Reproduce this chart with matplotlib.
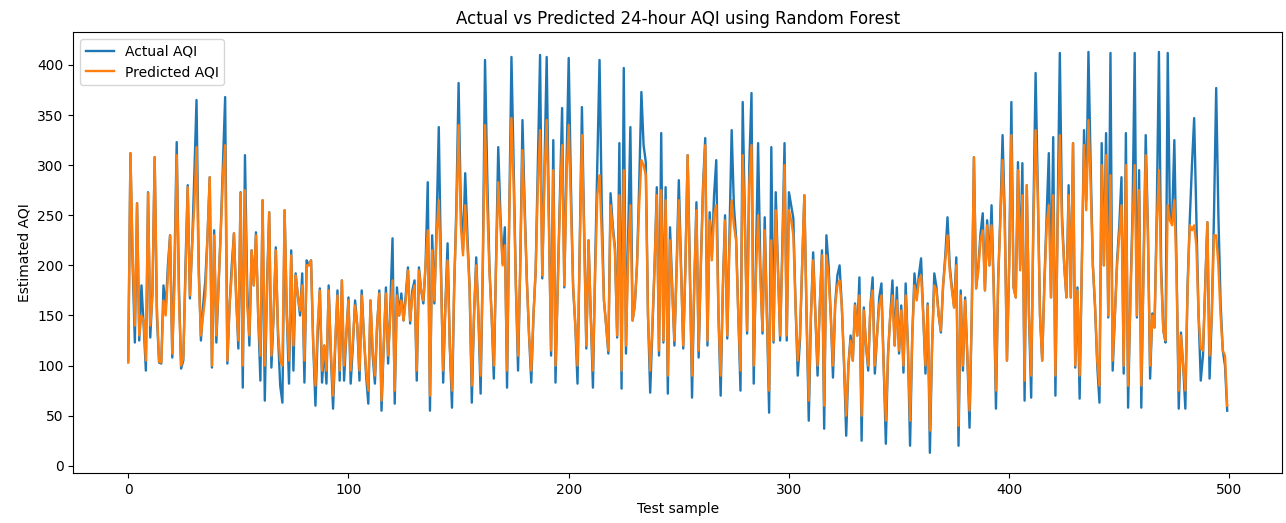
import numpy as np
import matplotlib
matplotlib.use("Agg")
import matplotlib.pyplot as plt

# Values (test samples 0..499)
actual_aqi = [
    105, 312, 200, 123, 262, 125, 180, 140, 95, 273,
    128, 175, 308, 150, 103, 102, 180, 155, 200, 230,
    108, 200, 323, 180, 97, 105, 200, 280, 167, 220,
    290, 365, 200, 125, 160, 185, 230, 288, 98, 235,
    123, 180, 235, 300, 368, 102, 160, 200, 232, 170,
    117, 273, 78, 310, 180, 120, 215, 180, 233, 150,
    85, 265, 65, 180, 253, 98, 150, 218, 130, 80,
    63, 255, 150, 82, 215, 95, 192, 170, 150, 192,
    83, 205, 200, 205, 120, 60, 130, 177, 83, 120,
    82, 180, 110, 57, 120, 175, 85, 185, 85, 130,
    168, 82, 120, 165, 140, 85, 175, 130, 90, 62,
    165, 110, 82, 140, 175, 55, 120, 178, 102, 160,
    227, 62, 178, 150, 172, 145, 170, 198, 142, 175,
    185, 85, 198, 175, 162, 200, 283, 55, 230, 162,
    240, 338, 200, 83, 160, 222, 120, 58, 178, 260,
    382, 260, 215, 292, 230, 178, 63, 150, 208, 150,
    72, 200, 405, 290, 198, 150, 87, 200, 318, 250,
    202, 238, 78, 250, 408, 300, 180, 95, 200, 345,
    260, 185, 130, 83, 150, 195, 300, 410, 187, 300,
    408, 250, 110, 325, 83, 180, 270, 357, 178, 300,
    407, 280, 178, 140, 82, 220, 358, 240, 117, 225,
    150, 78, 200, 300, 405, 260, 165, 140, 112, 272,
    240, 218, 128, 322, 77, 397, 112, 230, 338, 145,
    160, 200, 280, 373, 320, 303, 150, 73, 138, 200,
    278, 110, 332, 123, 278, 72, 238, 180, 120, 200,
    285, 200, 117, 200, 310, 200, 68, 180, 263, 108,
    200, 280, 327, 120, 253, 210, 270, 305, 150, 70,
    180, 250, 127, 230, 335, 260, 228, 150, 75, 363,
    250, 132, 300, 372, 82, 200, 322, 200, 132, 248,
    150, 53, 318, 123, 273, 200, 125, 220, 322, 125,
    273, 260, 247, 160, 90, 125, 200, 270, 150, 45,
    150, 213, 150, 90, 160, 215, 37, 230, 200, 150,
    88, 162, 190, 200, 160, 102, 30, 100, 130, 105,
    162, 130, 188, 25, 158, 120, 95, 160, 188, 92,
    130, 168, 182, 100, 22, 112, 150, 185, 120, 178,
    112, 160, 93, 182, 120, 20, 130, 192, 168, 190,
    207, 150, 92, 162, 13, 120, 192, 178, 150, 133,
    180, 210, 248, 200, 178, 158, 208, 20, 175, 95,
    168, 110, 38, 150, 308, 177, 200, 232, 252, 175,
    245, 200, 260, 177, 57, 185, 250, 330, 250, 105,
    200, 363, 178, 168, 303, 200, 302, 65, 280, 150,
    68, 250, 392, 275, 150, 105, 185, 250, 312, 168,
    328, 70, 250, 412, 250, 200, 168, 280, 168, 322,
    98, 178, 67, 200, 335, 265, 413, 300, 200, 158,
    100, 63, 322, 200, 332, 148, 412, 95, 150, 205,
    240, 288, 92, 332, 58, 165, 250, 412, 148, 295,
    58, 200, 330, 235, 87, 152, 138, 250, 413, 200,
    135, 123, 412, 245, 245, 325, 200, 57, 133, 100,
    57, 180, 245, 300, 347, 250, 150, 85, 110, 180,
    243, 87, 150, 250, 377, 250, 162, 115, 100, 55,
]

predicted_aqi = [
    103, 312, 210, 140, 262, 130, 150, 145, 105, 272,
    140, 170, 308, 160, 104, 103, 165, 150, 190, 230,
    112, 180, 310, 170, 100, 108, 190, 278, 170, 220,
    260, 318, 190, 130, 150, 170, 230, 288, 100, 230,
    130, 180, 232, 290, 320, 105, 160, 190, 232, 165,
    125, 272, 100, 275, 160, 130, 215, 180, 230, 150,
    110, 265, 100, 170, 253, 110, 150, 215, 135, 105,
    100, 255, 150, 105, 210, 120, 190, 170, 155, 180,
    105, 200, 200, 205, 120, 80, 140, 175, 95, 120,
    95, 175, 115, 70, 125, 170, 95, 185, 100, 130,
    165, 95, 125, 160, 140, 95, 170, 130, 95, 75,
    165, 115, 90, 140, 172, 65, 120, 172, 110, 150,
    185, 75, 170, 150, 165, 145, 165, 195, 145, 170,
    180, 95, 195, 175, 165, 200, 235, 70, 215, 165,
    230, 265, 190, 95, 160, 205, 120, 75, 180, 250,
    340, 240, 210, 260, 220, 178, 80, 150, 200, 150,
    90, 200, 340, 260, 195, 150, 100, 200, 283, 240,
    200, 220, 95, 250, 347, 280, 180, 110, 200, 315,
    250, 185, 130, 95, 150, 195, 280, 335, 190, 290,
    345, 240, 115, 295, 100, 175, 260, 320, 180, 290,
    340, 260, 180, 140, 100, 215, 330, 230, 120, 225,
    150, 95, 190, 270, 290, 230, 165, 140, 115, 260,
    235, 215, 130, 270, 95, 295, 120, 210, 260, 145,
    160, 200, 260, 305, 300, 290, 150, 95, 140, 200,
    270, 115, 275, 125, 265, 90, 225, 175, 125, 195,
    265, 195, 120, 200, 310, 190, 90, 180, 255, 115,
    200, 275, 320, 125, 245, 205, 250, 260, 150, 90,
    175, 245, 130, 220, 265, 240, 225, 150, 95, 310,
    240, 135, 280, 320, 100, 190, 250, 190, 135, 235,
    150, 75, 225, 125, 255, 195, 130, 210, 300, 130,
    255, 245, 230, 160, 105, 130, 200, 270, 150, 65,
    150, 205, 150, 100, 160, 210, 60, 210, 190, 150,
    100, 160, 180, 185, 160, 105, 50, 100, 125, 105,
    160, 130, 170, 50, 155, 120, 100, 160, 175, 100,
    130, 160, 170, 100, 45, 110, 150, 170, 120, 165,
    115, 155, 100, 170, 120, 45, 130, 180, 165, 185,
    190, 150, 100, 160, 35, 120, 180, 175, 150, 135,
    180, 205, 230, 195, 175, 158, 200, 40, 170, 100,
    165, 110, 55, 150, 308, 177, 195, 225, 235, 175,
    240, 200, 240, 177, 75, 185, 245, 305, 240, 105,
    200, 330, 178, 168, 295, 195, 270, 85, 280, 150,
    90, 240, 335, 270, 150, 105, 180, 240, 260, 168,
    270, 90, 240, 330, 240, 200, 168, 270, 168, 322,
    100, 175, 90, 200, 320, 255, 345, 280, 200, 160,
    105, 80, 300, 200, 310, 150, 290, 105, 150, 200,
    230, 260, 100, 300, 80, 160, 240, 300, 150, 275,
    80, 190, 310, 230, 100, 150, 138, 240, 295, 190,
    135, 125, 260, 245, 240, 265, 190, 75, 130, 100,
    75, 175, 240, 235, 240, 220, 150, 117, 115, 175,
    243, 110, 150, 230, 230, 200, 150, 115, 110, 60,
]

sample = np.arange(len(actual_aqi))

fig, ax = plt.subplots(figsize=(12.86, 5.23), dpi=100)
ax.plot(sample, actual_aqi, lw=1.7, label='Actual AQI')
ax.plot(sample, predicted_aqi, lw=1.7, label='Predicted AQI')
ax.set_title('Actual vs Predicted 24-hour AQI using Random Forest')
ax.set_xlabel('Test sample')
ax.set_ylabel('Estimated AQI')
ax.legend(loc='upper left')
fig.subplots_adjust(left=0.057, right=0.997, top=0.939, bottom=0.096)
fig.savefig('out.png', dpi=100)
